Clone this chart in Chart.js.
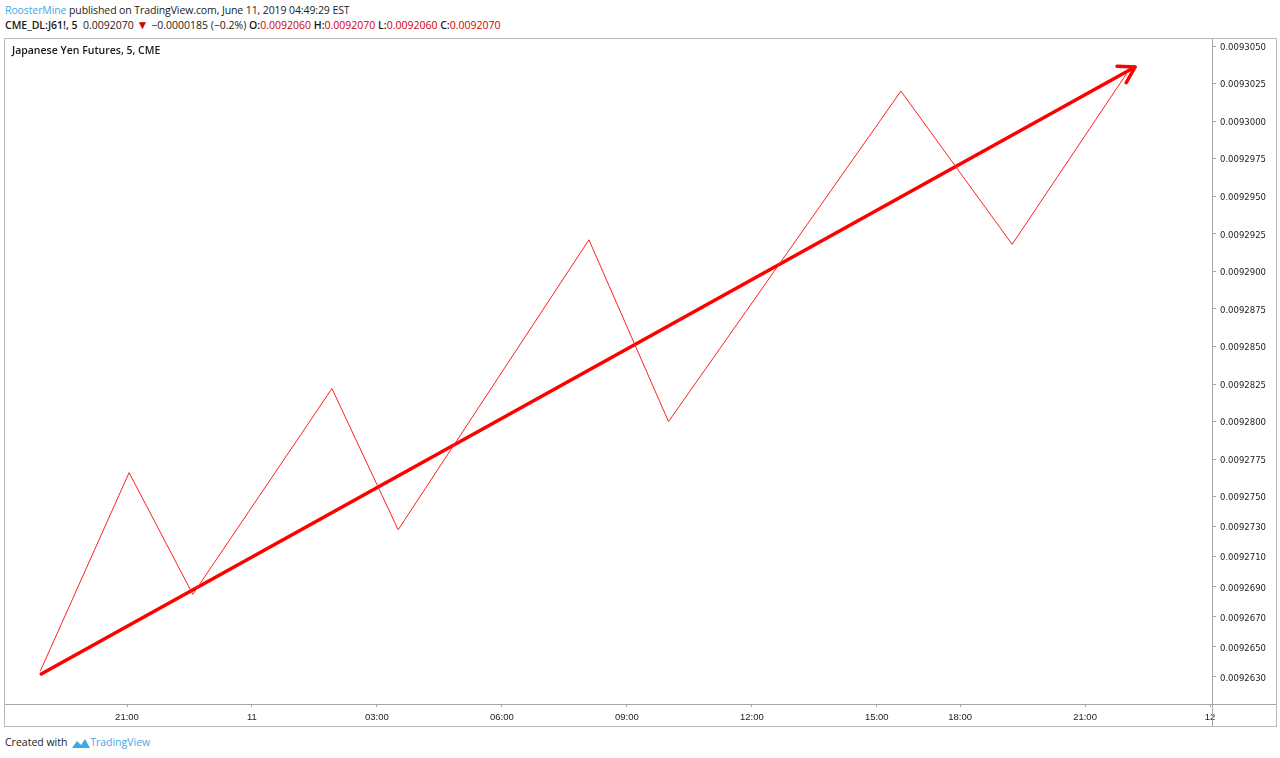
<!DOCTYPE html>
<html>
<head>
<meta charset="utf-8">
<script src="https://cdn.jsdelivr.net/npm/chart.js@4"></script>
<style>
  html, body { margin: 0; padding: 0; background: #fff; }
  body { width: 1280px; height: 758px; position: relative; overflow: hidden;
         font-family: "Open Sans", "Noto Sans", sans-serif; color: #222; }
  .hdr { position: absolute; left: 5px; font-size: 10.5px; white-space: nowrap; }
  #h1 { top: 3px; letter-spacing: -0.1px; }
  #h2 { top: 16px; }
  .blue { color: #3fa9e5; }
  .red { color: #d10000; }
  .tri { color: #d10000; font-size: 12px; }
  .b { font-weight: 600; color: #1a1a1a; }
  #wrap { position: absolute; left: 4px; top: 38px; width: 1273px; height: 689px;
          border: 1px solid #b9b9b9; box-sizing: border-box; }
  #title { position: absolute; left: 7px; top: 4px; font-size: 10.5px; font-weight: 600; color: #1a1a1a; }
  #foot { position: absolute; left: 5px; top: 735px; font-size: 10.5px; color: #222; white-space: nowrap; }
  #foot svg { vertical-align: -3px; margin-left: 2px; }
</style>
</head>
<body>
<div class="hdr" id="h1"><span class="blue">RoosterMine</span> published on TradingView.com, June 11, 2019 04:49:29 EST</div>
<div class="hdr" id="h2"><span class="b">CME_DL:J61!, 5</span>&nbsp; 0.0092070 <span class="tri">&#9660;</span> &minus;0.0000185 (&minus;0.2%) <span class="b">O:</span><span class="red">0.0092060</span> <span class="b">H:</span><span class="red">0.0092070</span> <span class="b">L:</span><span class="red">0.0092060</span> <span class="b">C:</span><span class="red">0.0092070</span></div>
<div id="wrap">
  <canvas id="c" width="1271" height="687"></canvas>
  <div id="title">Japanese Yen Futures, 5, CME</div>
</div>
<div id="foot">Created with <svg width="18" height="11" viewBox="0 0 18 11"><path d="M0 10 L5 3 L9 7 L13 1 L18 10 Z" fill="#3fa9e5"/></svg><span class="blue">TradingView</span></div>
<script>
// x values are session hours: 24 = midnight Jun 11, the 17:00-18:00 break is squeezed out
const xTickPos = [21, 24, 27, 30, 33, 36, 39, 41, 44, 47];
const xTickLabels = ["21:00", "11", "03:00", "06:00", "09:00", "12:00", "15:00", "18:00", "21:00", "12"];

const yTicks = [0.0093050, 0.0093025, 0.0093000, 0.0092975, 0.0092950, 0.0092925, 0.0092900,
  0.0092875, 0.0092850, 0.0092825, 0.0092800, 0.0092775, 0.0092750, 0.0092730, 0.0092710,
  0.0092690, 0.0092670, 0.0092650, 0.0092630];

// zigzag price path
const pathX = [18.92, 21.05, 22.58, 25.92, 27.51, 32.09, 34.0, 39.58, 42.25, 45.03];
const pathY = [0.0092634, 0.0092766, 0.0092685, 0.0092822, 0.0092728, 0.0092921, 0.0092800, 0.0093020, 0.0092918, 0.0093033];

// drawn trend arrow
const trendX = [18.94, 45.20];
const trendY = [0.0092632, 0.0093036];

const AXIS = "#a6a6a6";

const frame = {
  id: "frame",
  afterDraw(chart) {
    const { ctx, chartArea: a, width, height } = chart;
    ctx.save();
    ctx.strokeStyle = AXIS;
    ctx.lineWidth = 1;
    ctx.beginPath();
    ctx.moveTo(0, Math.round(a.bottom) + 0.5);
    ctx.lineTo(width, Math.round(a.bottom) + 0.5);
    ctx.moveTo(Math.round(a.right) + 0.5, 0);
    ctx.lineTo(Math.round(a.right) + 0.5, height);
    ctx.stroke();

    // arrow head on the trend line
    const pts = chart.getDatasetMeta(1).data;
    const p0 = pts[0], p1 = pts[pts.length - 1];
    const ang = Math.atan2(p0.y - p1.y, p0.x - p1.x);
    const len = 18;
    ctx.strokeStyle = "#ff0000";
    ctx.lineWidth = 3.5;
    ctx.lineCap = "round";
    ctx.lineJoin = "round";
    ctx.beginPath();
    ctx.moveTo(p1.x + len * Math.cos(ang - 0.55), p1.y + len * Math.sin(ang - 0.55));
    ctx.lineTo(p1.x, p1.y);
    ctx.lineTo(p1.x + len * Math.cos(ang + 0.55), p1.y + len * Math.sin(ang + 0.55));
    ctx.stroke();
    ctx.restore();
  },
};

new Chart(document.getElementById("c"), {
  type: "line",
  data: {
    datasets: [
      {
        data: pathX.map((x, i) => ({ x, y: pathY[i] })),
        borderColor: "#ff2020",
        borderWidth: 1,
        pointRadius: 0,
        tension: 0,
      },
      {
        data: trendX.map((x, i) => ({ x, y: trendY[i] })),
        borderColor: "#ff0000",
        borderWidth: 3.5,
        borderCapStyle: "round",
        pointRadius: 0,
        tension: 0,
      },
    ],
  },
  options: {
    responsive: false,
    animation: false,
    devicePixelRatio: 1,
    layout: { padding: 0 },
    plugins: { legend: { display: false }, tooltip: { enabled: false } },
    scales: {
      x: {
        type: "linear",
        min: 18.071,
        max: 47.048,
        afterBuildTicks: (s) => { s.ticks = xTickPos.map((v) => ({ value: v })); },
        afterFit: (s) => { s.height = 22; s.paddingLeft = 0; s.paddingRight = 0; },
        border: { display: false },
        grid: { drawOnChartArea: false, tickLength: 3, color: AXIS },
        ticks: {
          autoSkip: false,
          maxRotation: 0,
          padding: 5,
          color: "#222",
          font: { family: "Liberation Sans, Arial, sans-serif", size: 9.5 },
          callback: (v) => xTickLabels[xTickPos.indexOf(v)] ?? "",
        },
      },
      y: {
        position: "right",
        min: 0.0092612,
        max: 0.00930547,
        afterBuildTicks: (s) => { s.ticks = yTicks.map((v) => ({ value: v })); },
        afterFit: (s) => { s.width = 64; s.paddingTop = 0; s.paddingBottom = 0; },
        border: { display: false },
        grid: { drawOnChartArea: false, tickLength: 4, color: AXIS },
        ticks: {
          autoSkip: false,
          padding: 4,
          labelOffset: 1.5,
          color: "#222",
          font: { family: "DejaVu Sans, sans-serif", size: 8.5 },
          callback: (v) => v.toFixed(7),
        },
      },
    },
  },
  plugins: [frame],
});
</script>
</body>
</html>
